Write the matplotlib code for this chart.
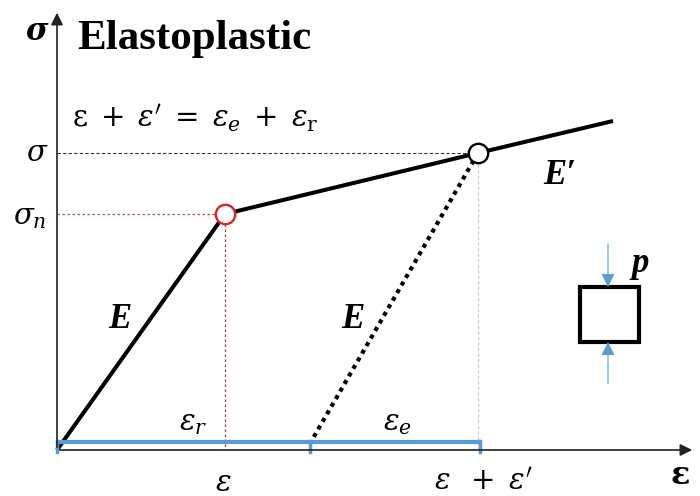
import matplotlib
matplotlib.use("Agg")
from matplotlib import pyplot as plt

plt.rcParams['mathtext.fontset'] = 'dejavuserif'

# stress-strain path (schematic units, origin at the axes corner)
elastic_x = [0, 168]
elastic_y = [0, 236]
plastic_x = [168, 421, 556]
plastic_y = [236, 297, 329]
unload_x = [421, 255]
unload_y = [297, 10]

yield_pt = (168, 236)  # sigma_n
load_pt = (421, 297)   # sigma
residual_x = 253       # end of eps_r
bracket_y = 8

axis_len_x = 638
axis_len_y = 440

blue = "#5b9bd5"

def main():
    fig = plt.figure(figsize=(7, 4.96), dpi=100)
    ax = fig.add_axes([0, 0, 1, 1])
    ax.set_xlim(-57, 643)
    ax.set_ylim(-46, 450)
    ax.axis("off")

    # axes with arrows
    ax.annotate("", xy=(axis_len_x, 0), xytext=(0, 0),
                arrowprops=dict(arrowstyle="-|>", color="#222222", lw=1.2, mutation_scale=18))
    ax.annotate("", xy=(0, axis_len_y), xytext=(0, 0),
                arrowprops=dict(arrowstyle="-|>", color="#222222", lw=1.2, mutation_scale=18))

    # guide lines
    ax.plot([0, load_pt[0]], [load_pt[1], load_pt[1]], color="#333333", lw=0.8, ls=(0, (3, 2)))
    ax.plot([0, yield_pt[0]], [yield_pt[1], yield_pt[1]], color="#c0504d", lw=0.9, ls=(0, (2, 2)))
    ax.plot([yield_pt[0], yield_pt[0]], [yield_pt[1], 0], color="#b03a37", lw=0.9, ls=(0, (2, 2)))
    ax.plot([load_pt[0], load_pt[0]], [load_pt[1], 0], color="#c8c8c8", lw=0.8, ls=(0, (3, 2)))

    # curves
    ax.plot(elastic_x, elastic_y, color="black", lw=2.9, solid_capstyle="butt")
    ax.plot(plastic_x, plastic_y, color="black", lw=2.9, solid_capstyle="butt")
    ax.plot(unload_x, unload_y, color="black", lw=3.0, ls=(0, (1, 1.1)))

    ax.plot(*yield_pt, "o", ms=14, mfc="white", mec="#d62728", mew=1.7, zorder=5)
    ax.plot(*load_pt, "o", ms=14, mfc="white", mec="black", mew=1.7, zorder=5)

    # strain brackets
    ax.plot([0, residual_x], [bracket_y, bracket_y], color=blue, lw=3, solid_capstyle="butt")
    ax.plot([residual_x, load_pt[0] + 2], [bracket_y, bracket_y], color=blue, lw=3, solid_capstyle="butt")
    for xb in [0, residual_x, load_pt[0] + 2]:
        ax.plot([xb, xb], [bracket_y + 1, -2], color=blue, lw=2.5)

    # specimen box with load arrows
    ax.add_patch(plt.Rectangle((523, 108), 59, 55, fill=False, lw=3, ec="black"))
    ax.annotate("", xy=(551, 163), xytext=(551, 206),
                arrowprops=dict(arrowstyle="-|>", color=blue, lw=0.8, mutation_scale=20, shrinkA=0, shrinkB=0))
    ax.annotate("", xy=(551, 108), xytext=(551, 66),
                arrowprops=dict(arrowstyle="-|>", color=blue, lw=0.8, mutation_scale=20, shrinkA=0, shrinkB=0))

    serif = "Liberation Serif"
    ax.text(20, 411, "Elastoplastic", fontsize=31, fontweight="bold", family=serif,
            va="center", ha="left")
    ax.text(-20, 418, r"$\boldsymbol{\sigma}$", fontsize=22, ha="center", va="center")
    ax.text(15, 332, r"$\mathrm{\varepsilon}\;+\;\varepsilon'\;=\;\varepsilon_e\;+\;\varepsilon_{\mathrm{r}}$",
            fontsize=21, ha="left", va="center")
    ax.text(-20, load_pt[1], r"$\sigma$", fontsize=21, ha="center", va="center")
    ax.text(-27, yield_pt[1] - 3, r"$\sigma_n$", fontsize=21, ha="center", va="center")

    ax.text(63, 131, "E", fontsize=25, fontweight="bold", style="italic", family=serif,
            ha="center", va="center")
    ax.text(296, 131, "E", fontsize=25, fontweight="bold", style="italic", family=serif,
            ha="center", va="center")
    ax.text(503, 275, "E\u2032", fontsize=25, fontweight="bold", style="italic", family=serif,
            ha="center", va="center")
    ax.text(583, 187, "p", fontsize=25, fontweight="bold", style="italic", family=serif,
            ha="center", va="center")

    ax.text(136, 27, r"$\varepsilon_r$", fontsize=21, ha="center", va="center")
    ax.text(340, 27, r"$\varepsilon_e$", fontsize=21, ha="center", va="center")
    ax.text(yield_pt[0] - 2, -33, r"$\varepsilon$", fontsize=21, ha="center", va="center")
    ax.text(load_pt[0] + 5, -32, r"$\varepsilon\;\;+\;\varepsilon'$", fontsize=21, ha="center", va="center")
    ax.text(623, -25, r"$\boldsymbol{\varepsilon}$", fontsize=23, ha="center", va="center")

    fig.savefig("out.png", dpi=100)

if __name__ == "__main__":
    main()
